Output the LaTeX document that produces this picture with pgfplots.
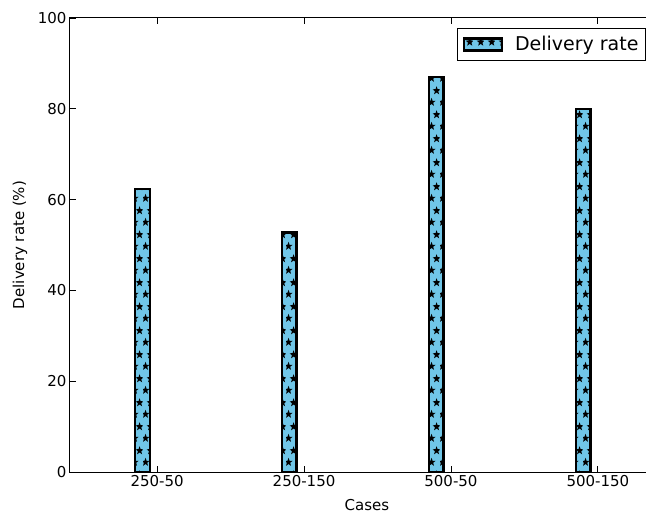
\documentclass[border=0pt]{standalone}
\usepackage{fontspec}
\setmainfont{DejaVu Sans}
\usepackage{pgfplots}
\pgfplotsset{compat=1.18}
\usetikzlibrary{patterns.meta}
\definecolor{barblue}{RGB}{112,198,232}
\tikzdeclarepattern{
  name=mystars,
  type=uncolored,
  bottom left={(0bp,0bp)},
  top right={(11bp,24bp)},
  tile size={(11bp,24bp)},
  code={
    \fill[shift={(2.75bp,6bp)}] (90:4.6bp) -- (126:1.9bp) -- (162:4.6bp) -- (198:1.9bp) -- (234:4.6bp) -- (270:1.9bp) -- (306:4.6bp) -- (342:1.9bp) -- (18:4.6bp) -- (54:1.9bp) -- cycle;
    \fill[shift={(8.25bp,18bp)}] (90:4.6bp) -- (126:1.9bp) -- (162:4.6bp) -- (198:1.9bp) -- (234:4.6bp) -- (270:1.9bp) -- (306:4.6bp) -- (342:1.9bp) -- (18:4.6bp) -- (54:1.9bp) -- cycle;
  }
}
\begin{document}
\begin{tikzpicture}
\path[use as bounding box] (-70bp,-44bp) rectangle (576bp,472bp);
\begin{scope}
\clip (-70bp,-44bp) rectangle (576bp,472bp);
\begin{axis}[
  at={(0,0)}, anchor=south west,
  scale only axis, width=594bp, height=454bp,
  xmin=-0.593, xmax=3.45, ymin=0, ymax=100,
  ybar, bar width=0.1,
  xtick={0,1,2,3}, xticklabels={250-50,250-150,500-50,500-150},
  ytick={0,20,40,60,80,100},
  minor tick num=0,
  tick align=inside, major tick length=6bp,
  tick style={black, line width=0.8bp},
  axis line style={line width=1bp},
  ticklabel style={font=\fontsize{15bp}{18bp}\selectfont},
  /pgf/number format/assume math mode=true,
  xlabel=Cases, ylabel={Delivery rate (\%)},
  label style={font=\fontsize{15bp}{18bp}\selectfont},
  xlabel style={at={(axis description cs:0.5,-0.0727)}, anchor=center},
  ylabel style={at={(axis description cs:-0.0842,0.5)}, anchor=center},
  legend style={at={(0.9697,0.978)}, anchor=north east, font=\fontsize{19bp}{22bp}\selectfont, draw=black, line width=1bp, inner xsep=5bp, inner ysep=6bp, nodes={inner sep=2bp}, /tikz/every odd column/.append style={column sep=10bp}},
  legend image code/.code={\draw[#1, line width=2.5bp] (0bp,-6bp) rectangle (38bp,6bp);},
]
\addplot[draw=black, line width=2.5bp, fill=barblue, postaction={pattern=mystars, pattern color=black}] coordinates {(-0.1,62.3) (0.9,52.7) (1.9,87.0) (2.9,80.0)};
\legend{Delivery rate}
\end{axis}
\end{scope}
\end{tikzpicture}
\end{document}
